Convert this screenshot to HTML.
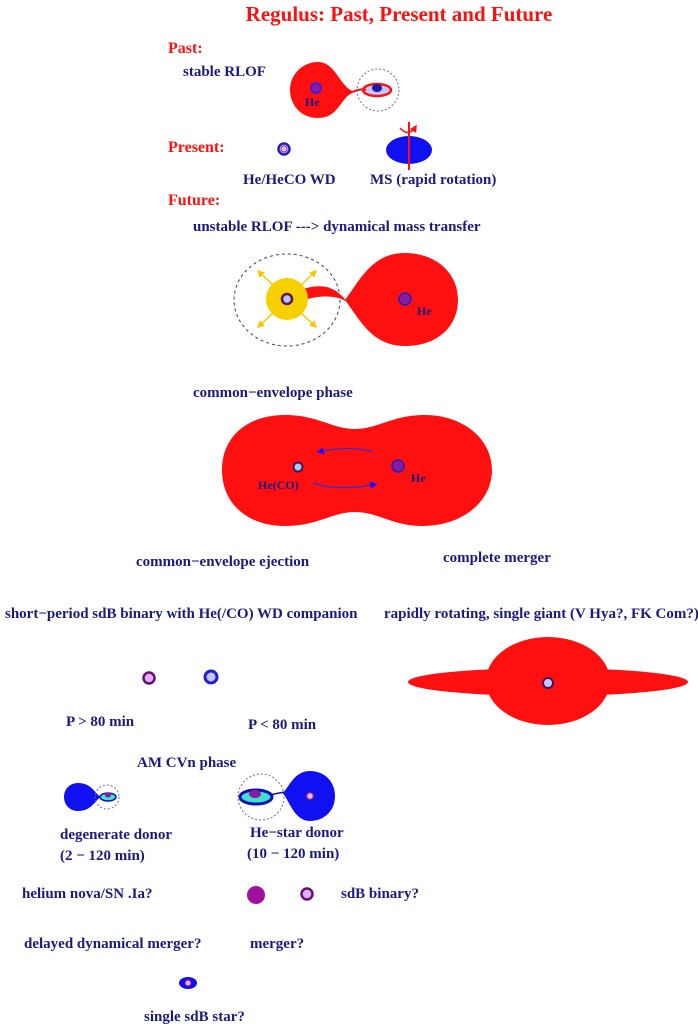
<!DOCTYPE html>
<html><head><meta charset="utf-8"><style>
body{margin:0;background:#fff;}
svg{display:block;}
text{font-family:"Liberation Serif",serif;font-weight:bold;font-size:15px;fill:#1a1a80;}
.r{fill:#ff1010;font-size:16px;}
</style></head><body>
<svg width="698" height="1024" viewBox="0 0 698 1024">
<defs>
<marker id="ab" viewBox="0 0 10 10" refX="8" refY="5" markerWidth="6" markerHeight="6" orient="auto"><path d="M0,0L10,5L0,10z" fill="#1010ff"/></marker>
<marker id="ay" viewBox="0 0 10 10" refX="8" refY="5" markerWidth="5" markerHeight="5" orient="auto"><path d="M0,0L10,5L0,10z" fill="#f5c800"/></marker>
<marker id="ar" viewBox="0 0 10 10" refX="8" refY="5" markerWidth="5" markerHeight="5" orient="auto"><path d="M0,0L10,5L0,10z" fill="#ff1010"/></marker>
</defs>
<text x="399" y="21" text-anchor="middle" class="r" style="font-size:21px">Regulus: Past, Present and Future</text>
<text x="168" y="53" class="r">Past:</text>
<text x="183" y="76">stable RLOF</text>
<path d="M355,92 C340,96 340,118 318,118 C300,118 290,104 290,90 C290,74 303,62 318,62 C336,62 340,88 355,92Z" fill="#ff1010"/>
<circle cx="316" cy="88" r="5" fill="#8a1aa0" stroke="#2020ff" stroke-width="1.5"/>
<text x="305" y="106" style="font-size:12px">He</text>
<circle cx="378" cy="90" r="21" fill="none" stroke="#6a6ab0" stroke-dasharray="2,2"/>
<ellipse cx="377" cy="90" rx="14" ry="6" fill="#c0c8ff" stroke="#ff1010" stroke-width="2.5"/>
<ellipse cx="377" cy="88" rx="5" ry="4" fill="#1a1ab0"/>
<path d="M352,92 Q362,88 366,90" stroke="#ff1010" stroke-width="2" fill="none"/>
<text x="168" y="152" class="r">Present:</text>
<circle cx="284" cy="149" r="5.5" fill="#c0c8ff" stroke="#2020c0" stroke-width="2.5"/>
<circle cx="284" cy="149" r="3" fill="none" stroke="#d02070" stroke-width="1"/>
<ellipse cx="409" cy="150" rx="23" ry="14" fill="#1010f0"/>
<line x1="409" y1="122" x2="409" y2="170" stroke="#ff1010" stroke-width="2"/>
<path d="M400,128 Q409,138 416,126" stroke="#ff1010" stroke-width="1.5" fill="none" marker-end="url(#ar)"/>
<text x="243" y="184">He/HeCO WD</text>
<text x="370" y="184">MS (rapid rotation)</text>
<text x="168" y="205" class="r">Future:</text>
<text x="193" y="231">unstable RLOF ---&gt; dynamical mass transfer</text>
<ellipse cx="287" cy="300" rx="53" ry="46" fill="none" stroke="#3a3a90" stroke-dasharray="3,3"/>
<path d="M345,300 C360,280 372,253 405,253 C435,253 458,272 458,300 C458,326 438,346 405,346 C372,346 360,320 345,300Z" fill="#ff1010"/>
<path d="M300,290 C320,283 335,285 347,302 C338,295 320,295 304,300Z" fill="#ff1010"/>
<circle cx="287" cy="299" r="21" fill="#f7d000"/>
<circle cx="287" cy="299" r="5" fill="#a0d0ff" stroke="#6a1060" stroke-width="2.5"/>
<g stroke="#f5c800" stroke-width="1.5" marker-end="url(#ay)">
<line x1="273" y1="285" x2="258" y2="271"/><line x1="301" y1="285" x2="316" y2="271"/>
<line x1="273" y1="313" x2="258" y2="327"/><line x1="301" y1="313" x2="316" y2="327"/></g>
<circle cx="405" cy="299" r="6" fill="#8a1aa0" stroke="#2020b0" stroke-width="1.5"/>
<text x="417" y="315" style="font-size:12px">He</text>
<text x="193" y="397">common−envelope phase</text>
<path d="M222,470 C222,436 248,415 285,415 C318,415 332,429 355,429 C378,429 392,415 425,415 C462,415 492,438 492,470 C492,502 462,526 422,526 C392,526 378,512 355,512 C332,512 318,526 285,526 C248,526 222,504 222,470Z" fill="#ff1010"/>
<circle cx="298" cy="467" r="4.5" fill="#a0d0ff" stroke="#4a1060" stroke-width="2"/>
<circle cx="398" cy="466" r="6" fill="#8a1aa0" stroke="#2020b0" stroke-width="1.5"/>
<text x="258" y="489" style="font-size:12px">He(CO)</text>
<text x="411" y="482" style="font-size:12px">He</text>
<path d="M373,452 Q350,445 318,452" stroke="#3030d0" stroke-width="1.2" fill="none" marker-end="url(#ab)"/>
<path d="M313,483 Q340,492 376,484" stroke="#3030d0" stroke-width="1.2" fill="none" marker-end="url(#ab)"/>
<text x="136" y="566">common−envelope ejection</text>
<text x="443" y="562">complete merger</text>
<text x="5" y="618">short−period sdB binary with He(/CO) WD companion</text>
<text x="384" y="618">rapidly rotating, single giant (V Hya?, FK Com?)</text>
<circle cx="149" cy="678" r="5.5" fill="#e0b0ff" stroke="#6a1070" stroke-width="2.5"/>
<circle cx="211" cy="677" r="6" fill="#c0c8ff" stroke="#2020d0" stroke-width="3"/>
<ellipse cx="548" cy="682" rx="140" ry="14" fill="#ff1010"/>
<ellipse cx="548" cy="681" rx="62" ry="44" fill="#ff1010"/>
<circle cx="548" cy="683" r="5" fill="#c0c8ff" stroke="#4a1060" stroke-width="2"/>
<text x="66" y="726">P &gt; 80 min</text>
<text x="248" y="729">P &lt; 80 min</text>
<text x="137" y="767">AM CVn phase</text>
<path d="M101,797 C95,800 92,811 78,811 C70,811 64,805 64,797 C64,789 70,783 78,783 C92,783 95,794 101,797Z" fill="#1010f0"/>
<circle cx="107" cy="797" r="12" fill="none" stroke="#6a6ab0" stroke-dasharray="2,2"/>
<ellipse cx="108" cy="797" rx="8" ry="4" fill="#40e0d0" stroke="#1010b0" stroke-width="1.5"/>
<ellipse cx="108" cy="795" rx="3" ry="2.5" fill="#8a1aa0"/>
<circle cx="261" cy="797" r="23" fill="none" stroke="#6a6ab0" stroke-dasharray="2,2"/>
<path d="M283,793 C290,785 295,771 310,771 C325,771 335,782 335,796 C335,811 324,821 310,821 C295,821 290,803 283,793Z" fill="#1010f0"/>
<ellipse cx="256" cy="797" rx="16" ry="7" fill="#40e0d0" stroke="#1010b0" stroke-width="3"/>
<ellipse cx="255" cy="794" rx="6" ry="4" fill="#8a1aa0"/>
<path d="M270,795 Q278,793 285,792" stroke="#1010b0" stroke-width="1.5" fill="none"/>
<circle cx="310" cy="796" r="3.5" fill="#c0c8ff" stroke="#a01070" stroke-width="1.5"/>
<text x="60" y="839">degenerate donor</text>
<text x="60" y="860">(2 − 120 min)</text>
<text x="250" y="837">He−star donor</text>
<text x="247" y="858">(10 − 120 min)</text>
<text x="22" y="898">helium nova/SN .Ia?</text>
<circle cx="256" cy="895" r="9" fill="#a010a0"/>
<circle cx="307" cy="894" r="5.5" fill="#e0b0ff" stroke="#6a1070" stroke-width="2.5"/>
<text x="341" y="898">sdB binary?</text>
<text x="24" y="948">delayed dynamical merger?</text>
<text x="250" y="948">merger?</text>
<ellipse cx="188" cy="983" rx="9" ry="6" fill="#1010f0"/>
<circle cx="188" cy="983" r="3" fill="#e0b0ff" stroke="#a01070" stroke-width="1"/>
<text x="144" y="1021">single sdB star?</text>
</svg>
</body></html>
